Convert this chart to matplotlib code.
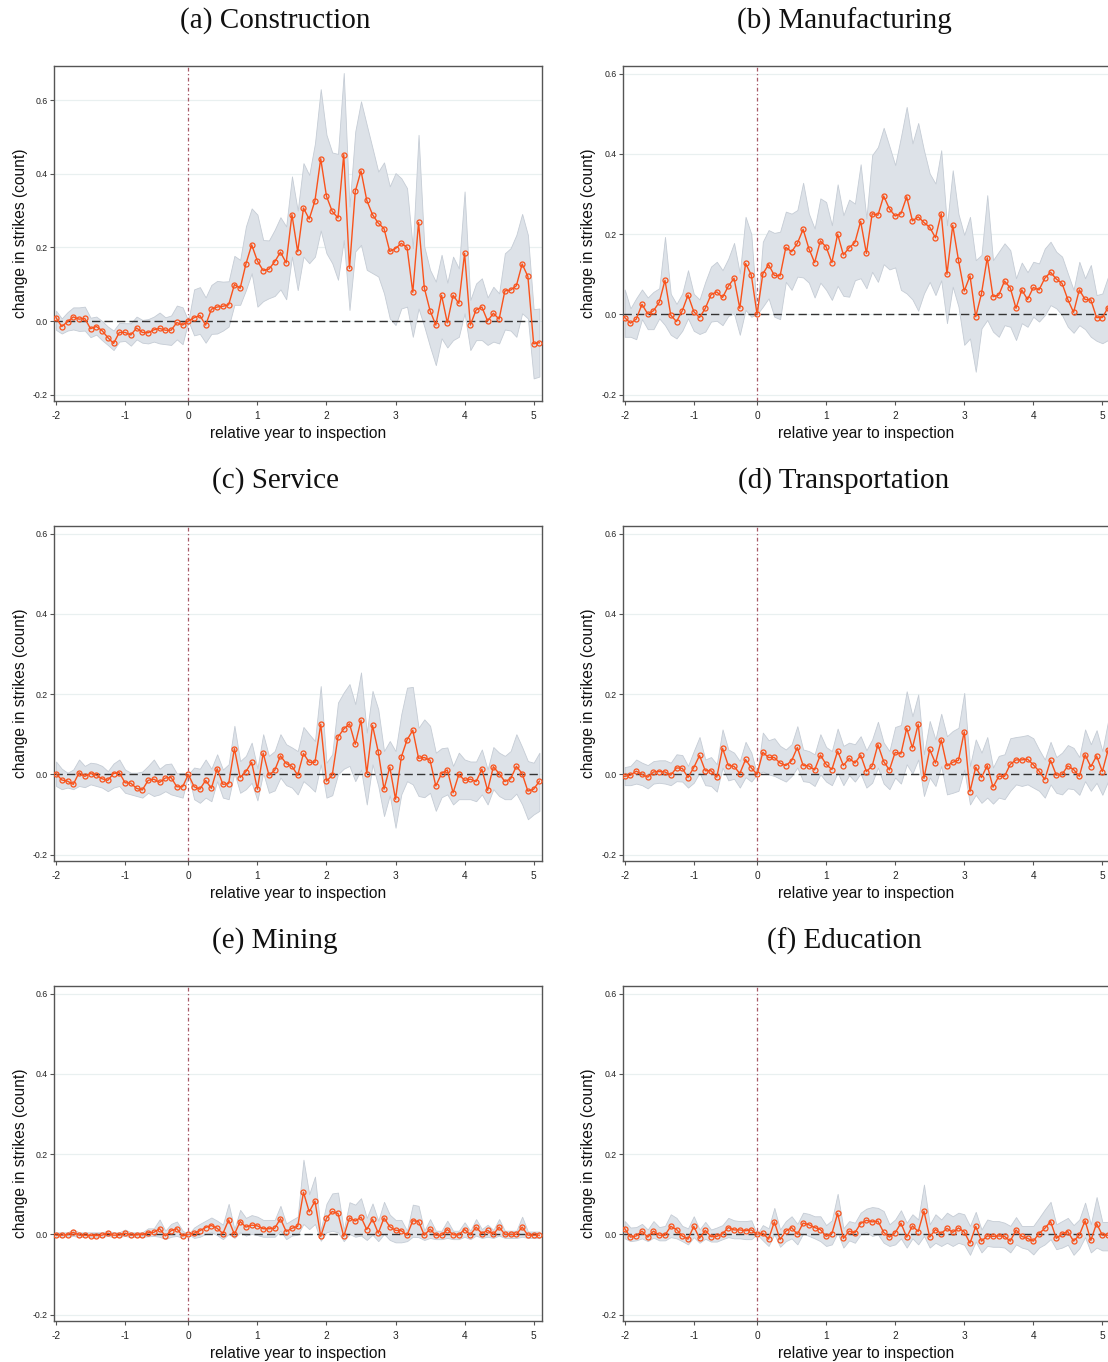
import numpy as np
import matplotlib
matplotlib.use("Agg")
import matplotlib.pyplot as plt

# ---------------- data ----------------
months = list(range(-23, 62))  # relative month to inspection
tick_months = [-23, -11, 0, 12, 24, 36, 48, 60]
tick_labels = ['-2', '-1', '0', '1', '2', '3', '4', '5']
ytick_vals = [-0.2, 0.0, 0.2, 0.4, 0.6]
ytick_labels = ['-0.2', '0.0', '0.2', '0.4', '0.6']

titles = ['(a) Construction', '(b) Manufacturing', '(c) Service',
          '(d) Transportation', '(e) Mining', '(f) Education']
xlabel = 'relative year to inspection'
ylabel = 'change in strikes (count)'

con_coef = [0.009, -0.015, -0.002, 0.011, 0.005, 0.007, -0.021, -0.015, -0.026, -0.045, -0.061, -0.031,
            -0.031, -0.038, -0.019, -0.031, -0.032, -0.024, -0.020, -0.025, -0.025, -0.004, -0.011,
            0.0,
            0.009, 0.015, -0.011, 0.032, 0.038, 0.040, 0.044, 0.099, 0.089, 0.155, 0.207, 0.163, 0.137,
            0.141, 0.161, 0.187, 0.158, 0.289, 0.188,
            0.307, 0.277, 0.327, 0.441, 0.339, 0.298, 0.280, 0.452, 0.143, 0.352, 0.408, 0.328, 0.289,
            0.266, 0.251, 0.189, 0.197, 0.211, 0.200, 0.078, 0.268, 0.090, 0.028, -0.011, 0.070, -0.005,
            0.070, 0.048, 0.184, -0.011, 0.030, 0.038, 0.000, 0.021, 0.005, 0.082, 0.084, 0.096, 0.155,
            0.121, -0.062, -0.059]
con_hi = [0.028, 0.007, 0.024, 0.037, 0.037, 0.039, 0.009, 0.012, 0.000, -0.015, -0.026, -0.005, -0.006,
          -0.006, 0.012, 0.003, 0.005, 0.012, 0.023, 0.010, 0.015, 0.042, 0.037,
          0.0,
          0.086, 0.092, 0.064, 0.098, 0.109, 0.107, 0.108, 0.177, 0.166, 0.257, 0.306, 0.289, 0.220,
          0.219, 0.248, 0.282, 0.257, 0.393, 0.300,
          0.429, 0.397, 0.483, 0.630, 0.506, 0.458, 0.454, 0.674, 0.311, 0.515, 0.597, 0.533, 0.470,
          0.406, 0.431, 0.366, 0.402, 0.388, 0.361, 0.198, 0.506, 0.202, 0.139, 0.107, 0.180, 0.104,
          0.175, 0.143, 0.352, 0.057, 0.102, 0.116, 0.064, 0.093, 0.075, 0.184, 0.198, 0.234, 0.291,
          0.234, 0.032, 0.034]
con_lo = [-0.024, -0.034, -0.026, -0.023, -0.027, -0.026, -0.044, -0.037, -0.052, -0.065, -0.079, -0.056,
          -0.054, -0.067, -0.050, -0.059, -0.061, -0.056, -0.061, -0.063, -0.065, -0.050, -0.063,
          0.0,
          -0.039, -0.035, -0.059, -0.035, -0.034, -0.026, -0.015, 0.044, 0.044, 0.084, 0.130, 0.039,
          0.054, 0.062, 0.068, 0.086, 0.059, 0.175, 0.084,
          0.175, 0.157, 0.175, 0.246, 0.184, 0.157, 0.112, 0.220, 0.030, 0.189, 0.207, 0.139, 0.130,
          0.121, 0.075, 0.007, -0.011, 0.034, 0.039, -0.043, 0.034, -0.015, -0.070, -0.120, -0.047,
          -0.072, -0.052, -0.043, 0.021, -0.079, -0.052, -0.052, -0.065, -0.056, -0.061, -0.023,
          -0.026, -0.043, 0.021, 0.007, -0.156, -0.151]

man_coef = [-0.008, -0.022, -0.012, 0.025, 0.001, 0.009, 0.030, 0.085, -0.002, -0.018, 0.009, 0.048,
            0.007, -0.008, 0.015, 0.049, 0.056, 0.042, 0.070, 0.090, 0.015, 0.127, 0.098,
            0.0,
            0.101, 0.124, 0.097, 0.096, 0.167, 0.156, 0.177, 0.212, 0.164, 0.129, 0.183, 0.168, 0.129,
            0.200, 0.148, 0.166, 0.179, 0.232, 0.152,
            0.251, 0.247, 0.295, 0.263, 0.245, 0.251, 0.293, 0.233, 0.243, 0.229, 0.217, 0.191, 0.251,
            0.100, 0.222, 0.135, 0.058, 0.096, -0.006, 0.052, 0.141, 0.044, 0.048, 0.083, 0.066, 0.015,
            0.061, 0.037, 0.067, 0.061, 0.090, 0.105, 0.088, 0.077, 0.037, 0.005, 0.061, 0.037, 0.036,
            -0.008, -0.008, 0.017]
man_hi = [0.062, 0.015, 0.040, 0.062, 0.042, 0.056, 0.065, 0.193, 0.051, 0.026, 0.052, 0.110, 0.051,
          0.037, 0.081, 0.119, 0.131, 0.110, 0.139, 0.178, 0.102, 0.243, 0.200,
          0.0,
          0.181, 0.210, 0.203, 0.206, 0.256, 0.251, 0.260, 0.328, 0.251, 0.214, 0.289, 0.280, 0.222,
          0.324, 0.247, 0.286, 0.276, 0.374, 0.239,
          0.397, 0.417, 0.465, 0.419, 0.372, 0.442, 0.517, 0.426, 0.477, 0.409, 0.351, 0.326, 0.409,
          0.222, 0.359, 0.250, 0.198, 0.243, 0.135, 0.148, 0.297, 0.135, 0.156, 0.177, 0.160, 0.090,
          0.129, 0.105, 0.131, 0.127, 0.164, 0.181, 0.156, 0.144, 0.102, 0.061, 0.131, 0.090, 0.123,
          0.048, 0.052, 0.094]
man_lo = [-0.056, -0.056, -0.062, -0.012, -0.037, -0.037, -0.010, -0.027, -0.051, -0.060, -0.041, -0.010,
          -0.041, -0.049, -0.043, -0.018, -0.016, -0.027, -0.004, 0.002, -0.051, 0.011, -0.006,
          0.0,
          0.019, 0.040, -0.006, -0.012, 0.081, 0.061, 0.094, 0.092, 0.079, 0.042, 0.079, 0.061, 0.036,
          0.071, 0.046, 0.044, 0.085, 0.090, 0.065,
          0.106, 0.081, 0.125, 0.112, 0.117, 0.061, 0.052, 0.037, 0.009, 0.052, 0.081, 0.048, 0.085,
          -0.022, 0.069, 0.019, -0.076, -0.060, -0.143, -0.035, -0.014, -0.043, -0.056, -0.027,
          -0.031, -0.064, -0.022, -0.031, -0.006, -0.018, -0.002, 0.023, 0.015, -0.002, -0.031,
          -0.046, -0.027, -0.037, -0.056, -0.066, -0.072, -0.064]

ser_coef = [0.002, -0.014, -0.017, -0.025, 0.004, -0.005, 0.002, -0.002, -0.011, -0.015, 0.002, 0.004,
            -0.021, -0.022, -0.035, -0.039, -0.015, -0.012, -0.020, -0.009, -0.008, -0.031, -0.031,
            0.0,
            -0.031, -0.037, -0.015, -0.035, 0.014, -0.025, -0.023, 0.064, -0.008, 0.007, 0.030, -0.037,
            0.053, -0.002, 0.010, 0.046, 0.027, 0.020, -0.002,
            0.052, 0.030, 0.030, 0.125, -0.017, -0.002, 0.093, 0.113, 0.126, 0.075, 0.135, 0.002, 0.122,
            0.056, -0.037, 0.018, -0.062, 0.043, 0.086, 0.110, 0.040, 0.042, 0.035, -0.029, 0.002,
            0.011, -0.046, 0.000, -0.015, -0.012, -0.018, 0.013, -0.040, 0.019, 0.002, -0.018, -0.011,
            0.020, 0.002, -0.042, -0.037, -0.017]
ser_hi = [0.032, 0.014, 0.004, 0.012, 0.037, 0.021, 0.029, 0.027, 0.021, 0.008, 0.027, 0.037, 0.012,
          0.004, 0.004, 0.007, 0.021, 0.037, 0.014, 0.025, 0.027, 0.002, 0.004,
          0.0,
          0.017, 0.014, 0.037, 0.014, 0.050, 0.012, 0.025, 0.121, 0.033, 0.046, 0.079, 0.015, 0.100,
          0.046, 0.058, 0.100, 0.075, 0.067, 0.058,
          0.118, 0.100, 0.083, 0.220, 0.029, 0.050, 0.179, 0.204, 0.225, 0.175, 0.254, 0.104, 0.208,
          0.162, 0.058, 0.083, 0.058, 0.150, 0.216, 0.218, 0.116, 0.137, 0.121, 0.054, 0.065, 0.067,
          0.021, 0.054, 0.037, 0.032, 0.032, 0.062, 0.012, 0.068, 0.054, 0.046, 0.058, 0.100, 0.068,
          0.033, 0.029, 0.054]
ser_lo = [-0.029, -0.037, -0.033, -0.037, -0.029, -0.032, -0.025, -0.029, -0.033, -0.042, -0.033, -0.029,
          -0.046, -0.050, -0.054, -0.058, -0.046, -0.054, -0.050, -0.042, -0.050, -0.054, -0.058,
          0.0,
          -0.062, -0.071, -0.058, -0.067, -0.017, -0.058, -0.062, 0.004, -0.046, -0.037, -0.021,
          -0.065, 0.004, -0.046, -0.040, -0.008, -0.027, -0.033, -0.050,
          -0.017, -0.029, -0.043, 0.025, -0.058, -0.052, 0.000, 0.014, 0.021, -0.017, 0.012, -0.075,
          0.025, -0.029, -0.104, -0.052, -0.133, -0.050, -0.017, -0.025, -0.054, -0.057, -0.046,
          -0.091, -0.057, -0.050, -0.075, -0.062, -0.062, -0.062, -0.067, -0.050, -0.075, -0.037,
          -0.054, -0.062, -0.062, -0.048, -0.075, -0.112, -0.100, -0.091]

tra_coef = [-0.005, -0.002, 0.008, 0.000, -0.007, 0.006, 0.007, 0.006, -0.002, 0.016, 0.015, -0.008,
            0.017, 0.047, 0.009, 0.009, -0.007, 0.065, 0.022, 0.020, 0.002, 0.037, 0.016,
            0.0,
            0.055, 0.042, 0.042, 0.028, 0.022, 0.034, 0.067, 0.022, 0.021, 0.011, 0.048, 0.025, 0.012,
            0.058, 0.022, 0.040, 0.028, 0.048, 0.007,
            0.021, 0.074, 0.032, 0.011, 0.055, 0.051, 0.115, 0.066, 0.125, -0.010, 0.062, 0.028, 0.086,
            0.021, 0.030, 0.035, 0.106, -0.043, 0.018, -0.008, 0.022, -0.032, -0.005, -0.005, 0.025,
            0.036, 0.036, 0.038, 0.024, 0.008, -0.013, 0.035, -0.002, 0.000, 0.021, 0.012, -0.005,
            0.049, 0.019, 0.046, 0.007, 0.061]
tra_hi = [0.018, 0.021, 0.037, 0.029, 0.023, 0.033, 0.035, 0.035, 0.029, 0.050, 0.048, 0.021, 0.058,
          0.093, 0.037, 0.043, 0.025, 0.112, 0.062, 0.054, 0.033, 0.081, 0.054,
          0.0,
          0.104, 0.085, 0.090, 0.071, 0.062, 0.075, 0.120, 0.062, 0.058, 0.050, 0.100, 0.068, 0.058,
          0.114, 0.071, 0.079, 0.075, 0.095, 0.060,
          0.087, 0.131, 0.079, 0.058, 0.118, 0.123, 0.207, 0.145, 0.199, 0.050, 0.133, 0.087, 0.151,
          0.095, 0.108, 0.116, 0.203, 0.021, 0.087, 0.054, 0.093, 0.017, 0.046, 0.050, 0.090, 0.093,
          0.095, 0.098, 0.090, 0.062, 0.037, 0.081, 0.043, 0.054, 0.073, 0.066, 0.043, 0.112, 0.075,
          0.110, 0.058, 0.133]
tra_lo = [-0.027, -0.027, -0.023, -0.027, -0.035, -0.023, -0.021, -0.023, -0.027, -0.017, -0.018, -0.033,
          -0.021, 0.004, -0.027, -0.029, -0.043, 0.017, -0.015, -0.011, -0.033, -0.007, -0.018,
          0.0,
          0.007, 0.000, -0.004, -0.011, -0.018, -0.004, 0.017, -0.017, -0.019, -0.029, 0.000, -0.018,
          -0.027, 0.004, -0.027, -0.002, -0.018, 0.002, -0.033,
          -0.021, 0.017, -0.023, -0.037, -0.008, -0.023, 0.025, 0.002, 0.037, -0.054, -0.008, -0.029,
          0.021, -0.050, -0.046, -0.041, 0.012, -0.075, -0.051, -0.071, -0.058, -0.073, -0.058,
          -0.062, -0.041, -0.025, -0.029, -0.025, -0.033, -0.041, -0.058, -0.025, -0.046, -0.050,
          -0.035, -0.037, -0.051, -0.017, -0.041, -0.021, -0.051, -0.017]

min_coef = [-0.002, -0.002, -0.001, 0.005, -0.002, -0.002, -0.003, -0.003, -0.002, 0.003, -0.002, -0.002,
            0.003, -0.002, -0.001, -0.001, 0.004, 0.005, 0.014, -0.004, 0.009, 0.014, -0.004,
            0.0,
            0.003, 0.009, 0.017, 0.022, 0.015, 0.002, 0.036, 0.000, 0.032, 0.018, 0.023, 0.021, 0.014,
            0.014, 0.015, 0.039, 0.007, 0.015, 0.020,
            0.105, 0.056, 0.083, -0.005, 0.040, 0.057, 0.052, -0.005, 0.041, 0.033, 0.043, 0.012, 0.038,
            0.003, 0.041, 0.019, 0.010, 0.009, -0.002, 0.034, 0.032, -0.002, 0.013, -0.002, -0.002,
            0.012, -0.001, -0.001, 0.012, -0.001, 0.018, 0.002, 0.010, 0.000, 0.018, 0.000, 0.000,
            0.000, 0.018, -0.002, -0.002, -0.002]
min_hi = [0.005, 0.005, 0.005, 0.012, 0.005, 0.005, 0.005, 0.005, 0.005, 0.009, 0.005, 0.005, 0.012,
          0.005, 0.005, 0.005, 0.015, 0.015, 0.037, 0.009, 0.026, 0.032, 0.009,
          0.0,
          0.017, 0.026, 0.034, 0.042, 0.034, 0.024, 0.076, 0.013, 0.061, 0.041, 0.048, 0.044, 0.036,
          0.036, 0.036, 0.071, 0.027, 0.036, 0.044,
          0.186, 0.100, 0.144, 0.011, 0.076, 0.102, 0.104, 0.011, 0.080, 0.074, 0.090, 0.041, 0.077,
          0.034, 0.081, 0.049, 0.036, 0.036, 0.009, 0.074, 0.071, 0.009, 0.038, 0.009, 0.009, 0.034,
          0.009, 0.009, 0.030, 0.009, 0.038, 0.013, 0.024, 0.011, 0.038, 0.009, 0.009, 0.009, 0.044,
          0.007, 0.007, 0.007]
min_lo = [-0.006, -0.006, -0.006, -0.004, -0.007, -0.006, -0.007, -0.007, -0.006, -0.004, -0.007, -0.006,
          -0.004, -0.007, -0.006, -0.006, -0.005, -0.004, -0.006, -0.012, -0.006, -0.004, -0.009,
          0.0,
          -0.009, -0.006, 0.001, 0.005, -0.002, -0.012, 0.001, -0.009, 0.005, -0.003, 0.001, -0.002,
          -0.006, -0.006, -0.006, 0.009, -0.012, -0.003, -0.001,
          0.026, 0.013, 0.026, -0.016, 0.005, 0.009, 0.005, -0.017, 0.001, -0.006, -0.003, -0.014,
          -0.001, -0.017, 0.001, -0.014, -0.020, -0.020, -0.017, -0.006, -0.007, -0.014, -0.009,
          -0.012, -0.012, -0.009, -0.012, -0.012, -0.006, -0.012, -0.003, -0.009, -0.006, -0.009,
          -0.003, -0.009, -0.009, -0.009, -0.006, -0.009, -0.009, -0.009]

edu_coef = [0.014, -0.007, -0.004, 0.008, -0.007, 0.008, -0.002, -0.002, 0.020, 0.012, -0.004, -0.012,
            0.020, -0.010, 0.010, -0.006, -0.005, 0.001, 0.017, 0.011, 0.011, 0.009, 0.011,
            0.0,
            0.003, -0.012, 0.031, -0.013, 0.008, 0.017, 0.000, 0.028, 0.024, 0.017, 0.012, -0.005,
            0.002, 0.052, -0.010, 0.008, 0.004, 0.027, 0.035,
            0.031, 0.033, 0.005, -0.007, 0.004, 0.028, -0.007, 0.021, 0.007, 0.058, -0.007, 0.012,
            0.002, 0.015, 0.005, 0.016, 0.006, -0.022, 0.020, -0.017, -0.004, -0.005, -0.004, -0.005,
            -0.017, 0.011, -0.005, -0.010, -0.017, 0.002, 0.015, 0.032, -0.010, 0.001, 0.007, -0.017,
            -0.002, 0.034, -0.015, 0.027, -0.002, -0.002]
edu_hi = [0.033, 0.017, 0.018, 0.026, 0.012, 0.033, 0.018, 0.021, 0.050, 0.041, 0.021, 0.015, 0.045,
          0.012, 0.031, 0.012, 0.017, 0.023, 0.041, 0.035, 0.033, 0.033, 0.035,
          0.0,
          0.023, 0.015, 0.066, 0.012, 0.033, 0.045, 0.026, 0.054, 0.051, 0.045, 0.045, 0.023, 0.035,
          0.101, 0.015, 0.033, 0.029, 0.054, 0.064,
          0.068, 0.066, 0.058, 0.025, 0.037, 0.060, 0.029, 0.050, 0.037, 0.124, 0.025, 0.050, 0.037,
          0.054, 0.045, 0.054, 0.050, 0.021, 0.056, 0.012, 0.037, 0.033, 0.033, 0.029, 0.021, 0.043,
          0.021, 0.021, 0.021, 0.041, 0.062, 0.081, 0.025, 0.033, 0.041, 0.023, 0.037, 0.079, 0.025,
          0.093, 0.031, 0.031]
edu_lo = [-0.010, -0.017, -0.015, -0.010, -0.017, -0.008, -0.015, -0.015, -0.007, -0.010, -0.017, -0.025,
          -0.007, -0.021, -0.011, -0.018, -0.018, -0.012, -0.007, -0.010, -0.010, -0.012, -0.012,
          0.0,
          -0.015, -0.029, 0.000, -0.031, -0.017, -0.010, -0.025, 0.002, -0.004, -0.010, -0.017,
          -0.029, -0.025, 0.004, -0.033, -0.015, -0.021, 0.000, 0.006,
          -0.004, 0.000, -0.021, -0.029, -0.025, -0.010, -0.033, -0.010, -0.025, -0.004, -0.033,
          -0.021, -0.029, -0.021, -0.029, -0.021, -0.026, -0.051, -0.018, -0.045, -0.029, -0.031,
          -0.031, -0.033, -0.045, -0.025, -0.033, -0.037, -0.050, -0.033, -0.025, -0.012, -0.037,
          -0.033, -0.026, -0.051, -0.035, -0.007, -0.045, -0.033, -0.040, -0.040]

panels = [
    (con_coef, con_lo, con_hi),
    (man_coef, man_lo, man_hi),
    (ser_coef, ser_lo, ser_hi),
    (tra_coef, tra_lo, tra_hi),
    (min_coef, min_lo, min_hi),
    (edu_coef, edu_lo, edu_hi),
]

# ---------------- style ----------------
W, H = 1108, 1362
fig = plt.figure(figsize=(W / 100, H / 100), dpi=100)
fig.patch.set_facecolor('white')

sans = ['Liberation Sans', 'DejaVu Sans']
serif = ['Liberation Serif', 'DejaVu Serif']

band_face = '#dde2e8'
band_edge = '#c5ccd5'
line_col = '#f9531c'
vline_col = '#a85a68'
grid_col = '#e9f0f0'
spine_col = '#555555'

left_x = [54, 622.7]
row_top = [66, 526, 986]
ax_w, ax_h = 487.7, 335
title_cx = [275, 844]
ylims = [(-0.2174, 0.693), (-0.216, 0.619)]

for i, (coef, lo, hi) in enumerate(panels):
    r, c = divmod(i, 2)
    x0 = left_x[c]
    top = row_top[r]
    ax = fig.add_axes([x0 / W, 1 - (top + ax_h) / H, ax_w / W, ax_h / H])
    ax.set_facecolor('white')

    ax.fill_between(months, lo, hi, facecolor=band_face, edgecolor=band_edge,
                    linewidth=0.6, zorder=1)
    ax.axhline(0, color='#333333', linewidth=1.0, dashes=(6, 3), zorder=2)
    ax.axvline(0, color=vline_col, linewidth=0.9, linestyle=(0, (3, 2, 1, 2)),
               zorder=2)
    ax.plot(months, coef, color=line_col, linewidth=1.0, marker='o', markersize=3.6,
            markerfacecolor='none', markeredgecolor=line_col, markeredgewidth=0.9, zorder=3)

    ax.set_xlim(-23.35, 61.4)
    ax.set_ylim(*(ylims[0] if i == 0 else ylims[1]))
    ax.set_xticks(tick_months)
    ax.set_xticklabels(tick_labels, fontsize=7.3, family=sans, color='#222222')
    ax.set_yticks(ytick_vals)
    ax.set_yticklabels(ytick_labels, fontsize=6.3, family=sans, color='#222222')
    ax.tick_params(axis='x', length=3, width=0.8, color=spine_col, pad=4)
    ax.tick_params(axis='y', length=3, width=0.8, color=spine_col, pad=1.5)
    ax.grid(axis='y', color=grid_col, linewidth=0.9, zorder=0)
    ax.set_axisbelow(True)
    for s in ax.spines.values():
        s.set_color(spine_col)
        s.set_linewidth(1.0)

    ax.set_xlabel(xlabel, fontsize=11.2, family=sans, color='#111111')
    ax.xaxis.set_label_coords(0.5, -0.074)
    ax.set_ylabel(ylabel, fontsize=11.2, family=sans, color='#111111')
    ax.yaxis.set_label_coords(-0.054, 0.5)

    fig.text(title_cx[c] / W, 1 - (top - 45) / H, titles[i], ha='center', va='center',
             fontsize=21, family=serif, color='#111111')

fig.savefig('out.png', dpi=100, facecolor='white')
